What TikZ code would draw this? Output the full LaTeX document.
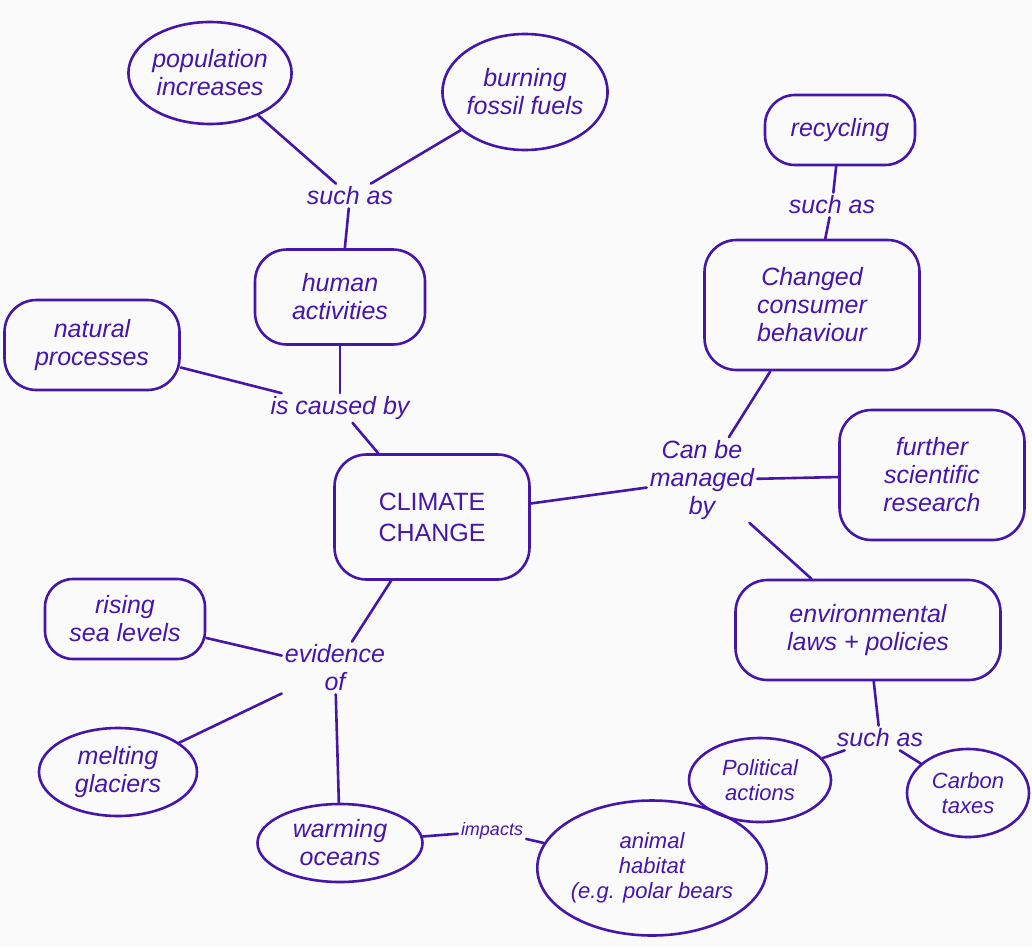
\documentclass[tikz,border=0pt]{standalone}
\usepackage{fontspec}
\setmainfont{Liberation Sans}
\usetikzlibrary{shapes.geometric}
\definecolor{ink}{RGB}{70,22,170}
\definecolor{paper}{RGB}{250,250,250}
\tikzset{
  blob/.style={draw=ink, line width=2.6pt, rounded corners=32pt, text=ink, align=center, font=\itshape\fontsize{25}{28}\selectfont, inner sep=4pt},
  oval/.style={draw=ink, line width=2.6pt, ellipse, text=ink, align=center, font=\itshape\fontsize{25}{28}\selectfont, inner sep=0pt},
  lbl/.style={text=ink, align=center, font=\itshape\fontsize{25}{28}\selectfont, inner sep=3pt},
  link/.style={draw=ink, line width=2.6pt, line cap=round}
}
\begin{document}
\begin{tikzpicture}[x=1pt,y=-1pt]
\fill[paper] (0,0) rectangle (1032,947);
\useasboundingbox (0,0) rectangle (1032,947);
% nodes
\node[oval, minimum width=162pt, minimum height=102pt] (pop) at (210,73) {population\\increases};
\node[oval, minimum width=162pt, minimum height=116pt] (burn) at (525,92) {burning\\fossil fuels};
\node[lbl] (such1) at (350,196) {such as};
\node[blob, minimum width=170pt, minimum height=95pt] (human) at (340,297) {human\\activities};
\node[blob, minimum width=175pt, minimum height=90pt] (nat) at (92,345) {natural\\processes};
\node[lbl] (caused) at (340,408) {is caused by};
\node[blob, minimum width=195pt, minimum height=125pt, font=\fontsize{25}{31}\selectfont] (cc) at (432,517) {CLIMATE\\CHANGE};
\node[blob, minimum width=160pt, minimum height=80pt, rounded corners=28pt] (sea) at (125,619) {rising\\sea levels};
\node[lbl] (evid) at (335,668) {evidence\\of};
\node[oval, minimum width=158pt, minimum height=88pt] (melt) at (118,772) {melting\\glaciers};
\node[oval, minimum width=165pt, minimum height=78pt] (warm) at (340,843) {warming\\oceans};
\node[lbl, font=\itshape\fontsize{18}{21}\selectfont] (imp) at (492,831) {impacts};
\node[oval, minimum width=218pt, minimum height=135pt, font=\itshape\fontsize{22}{25}\selectfont] (anim) at (652,868) {animal\\habitat\\(e.g. polar bears};
\node[blob, minimum width=150pt, minimum height=70pt, rounded corners=30pt] (recy) at (840,130) {recycling};
\node[lbl] (such2) at (832,205) {such as};
\node[blob, minimum width=215pt, minimum height=130pt] (chg) at (812,305) {Changed\\consumer\\behaviour};
\node[lbl] (manage) at (702,480) {Can be\\managed\\by};
\node[blob, minimum width=185pt, minimum height=130pt] (res) at (932,475) {further\\scientific\\research};
\node[blob, minimum width=265pt, minimum height=100pt] (env) at (868,630) {environmental\\laws + policies};
\node[lbl] (such3) at (880,738) {such as};
\node[oval, minimum width=142pt, minimum height=84pt, font=\itshape\fontsize{22}{25}\selectfont] (pol) at (760,780) {Political\\actions};
\node[oval, minimum width=122pt, minimum height=88pt, font=\itshape\fontsize{22}{25}\selectfont] (carb) at (968,793) {Carbon\\taxes};
% connectors
\draw[link] (pop) -- (such1);
\draw[link] (burn) -- (such1);
\draw[link] (such1) -- (human);
\draw[link] (human) -- (caused);
\draw[link] (nat) -- (caused);
\draw[link] (caused) -- (cc);
\draw[link] (cc) -- (evid);
\draw[link] (sea) -- (evid);
\draw[link] (evid) -- (melt);
\draw[link] (evid) -- (warm);
\draw[link] (warm) -- (imp);
\draw[link] (imp) -- (anim);
\draw[link] (cc) -- (manage);
\draw[link] (recy) -- (such2);
\draw[link] (such2) -- (chg);
\draw[link] (chg) -- (manage);
\draw[link] (manage) -- (res);
\draw[link] (manage) -- (env);
\draw[link] (env) -- (such3);
\draw[link] (such3) -- (pol);
\draw[link] (such3) -- (carb);
\end{tikzpicture}
\end{document}
